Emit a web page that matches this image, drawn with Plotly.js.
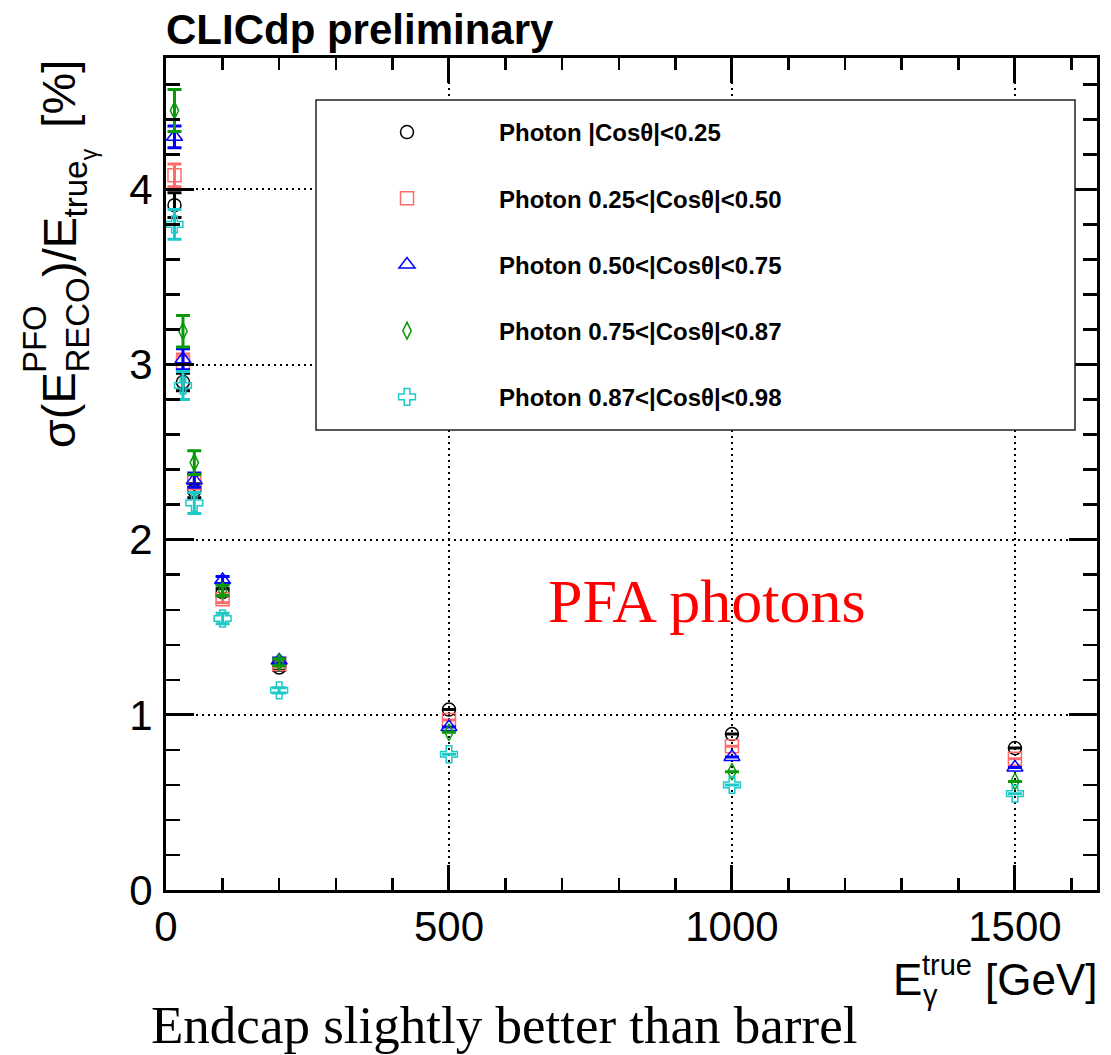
<!DOCTYPE html>
<html><head><meta charset="utf-8">
<script src="https://cdn.plot.ly/plotly-3.0.1.min.js"></script>
<style>html,body{margin:0;padding:0;background:#fff;} #chart{width:1111px;height:1055px;}</style>
</head><body><div id="chart"></div>
<script>
// ---- data ----
const energies = [15, 30, 50, 100, 200, 500, 1000, 1500];
const seriesNames = [
  'Photon |Cosθ|&lt;0.25',
  'Photon 0.25&lt;|Cosθ|&lt;0.50',
  'Photon 0.50&lt;|Cosθ|&lt;0.75',
  'Photon 0.75&lt;|Cosθ|&lt;0.87',
  'Photon 0.87&lt;|Cosθ|&lt;0.98'
];
const resCos000_025 = [3.91, 2.90, 2.28, 1.70, 1.27, 1.03, 0.89, 0.81];
const errCos000_025 = [0.07, 0.05, 0.04, 0.02, 0.015, null, null, null];
const resCos025_050 = [4.08, 3.01, 2.33, 1.66, 1.29, 0.97, 0.82, 0.75];
const errCos025_050 = [0.065, 0.05, 0.04, 0.02, 0.015, null, null, null];
const resCos050_075 = [4.30, 3.03, 2.34, 1.77, 1.31, 0.93, 0.76, 0.70];
const errCos050_075 = [0.062, 0.06, 0.04, 0.02, 0.015, null, null, null];
const resCos075_087 = [4.45, 3.19, 2.44, 1.71, 1.30, 0.90, 0.675, 0.62];
const errCos075_087 = [0.12, 0.09, 0.068, 0.03, 0.02, null, null, null];
const resCos087_098 = [3.80, 2.88, 2.21, 1.55, 1.14, 0.775, 0.60, 0.55];
const errCos087_098 = [0.085, 0.08, 0.06, 0.03, 0.015, null, null, null];
const xTickVals = [0, 500, 1000, 1500];
const yTickVals = [0, 1, 2, 3, 4];

// ---- styles ----
const colors = ['#000000', '#ff6b6b', '#0000ff', '#0a990a', '#1cc9c9'];
const symbols = ['circle-open', 'square-open', 'triangle-up-open', 'diamond-tall-open', 'cross-open'];
const sizes = [13, 13, 14, 12, 14];
const ys = [resCos000_025, resCos025_050, resCos050_075, resCos075_087, resCos087_098];
const es = [errCos000_025, errCos025_050, errCos050_075, errCos075_087, errCos087_098];

const traces = ys.map((y, i) => ({
  type: 'scatter', mode: 'markers', x: energies, y: y, name: seriesNames[i],
  legendgroup: 'g' + i,
  marker: {symbol: symbols[i], size: sizes[i], color: colors[i], line: {color: colors[i], width: 1.5}},
  error_y: {type: 'data', array: es[i], visible: true, color: colors[i], thickness: 3, width: 7},
  cliponaxis: false
}));

// ---- geometry helpers (pixels -> paper) ----
const X0 = 166, Y0 = 890, PW = 931, PH = 832, TOP = 58;
const FAM = '"Liberation Sans", Arial, Helvetica, sans-serif';
const SERIF = '"Liberation Serif", "Times New Roman", serif';
const px = p => (p - X0) / PW;
const py = p => (Y0 - p) / PH;
const ctx = document.createElement('canvas').getContext('2d');
function tw(t, size, weight) { ctx.font = (weight || 'normal') + ' ' + size + 'px "Liberation Sans"'; return ctx.measureText(t).width; }
const ASC = 0.3465;
const annotations = [];

function hText(text, size, left, baseline, color, family, weight) {
  const cy = baseline - ASC * size;
  annotations.push({xref: 'paper', yref: 'paper', x: 0, y: 0, xanchor: 'left', yanchor: 'middle',
    xshift: left - X0, yshift: -(cy - Y0), showarrow: false, text: text, borderpad: 0,
    font: {family: family || FAM, size: size, color: color || '#000', weight: weight || 'normal'}});
}
function vText(text, size, baselineX, cy) {
  const cx = baselineX - ASC * size;
  annotations.push({xref: 'paper', yref: 'paper', x: 0, y: 1, xanchor: 'center', yanchor: 'middle',
    xshift: cx - X0, yshift: -(cy - TOP), textangle: -90, showarrow: false, text: text, borderpad: 0,
    font: {family: FAM, size: size, color: '#000'}});
}

// Y axis title: σ(E^PFO_RECO)/E_true_γ [%]
(function () {
  const F = 47, S = 33, SS = 23, YB = 75, YTOP = 60;
  const l1 = tw('σ(E', F), l2 = Math.max(tw('PFO', S), tw('RECO', S)), l3 = tw(')/E', F),
        l4 = tw('true', S), l5 = tw('γ', SS), lg = tw(' ', F) * 1.6, l6 = tw('[%]', F);
  const L = l1 + l2 + l3 + l4 + l5 + lg + l6;
  const yb = YTOP + L;
  let s = 0;
  const put = (t, size, len, off) => vText(t, size, YB - off, yb - s - len / 2);
  put('σ(E', F, l1, 0); s += l1;
  put('PFO', S, tw('PFO', S), 0.62 * F); put('RECO', S, tw('RECO', S), -0.3 * F); s += l2;
  put(')/E', F, l3, 0); s += l3;
  put('true', S, l4, -0.26 * F); s += l4;
  put('γ', SS, l5, -0.46 * F); s += l5 + lg;
  put('[%]', F, l6, 0);
})();

// X axis title: E^true_γ [GeV]
(function () {
  const F = 44, S = 29, XB = 995, XR = 1096;
  const l1 = tw('E', F), l2 = Math.max(tw('true', S), tw('γ', S)), lg = tw(' ', F), l3 = tw('[GeV]', F);
  let x = XR - (l1 + l2 + lg + l3);
  hText('E', F, x, XB); x += l1;
  hText('true', S, x, XB - 0.46 * F); hText('γ', S, x + 1, XB + 0.22 * F); x += l2 + lg;
  hText('[GeV]', F, x, XB);
})();

hText('CLICdp preliminary', 42, 165, 44, '#000', FAM, 'bold');
annotations.push({xref: 'paper', yref: 'paper', x: px(707), y: py(601), xanchor: 'center', yanchor: 'middle',
  showarrow: false, text: 'PFA photons', font: {family: SERIF, size: 62, color: '#ff0000'}});
hText('Endcap slightly better than barrel', 53, 150, 1043, '#000', SERIF);

const axisCommon = {
  showline: true, linewidth: 3, linecolor: '#000', mirror: 'ticks',
  ticks: 'inside', tickwidth: 3, tickcolor: '#000',
  showgrid: true, gridcolor: '#000', gridwidth: 2, griddash: '2px,4px',
  zeroline: false, tickfont: {family: FAM, size: 42, color: '#000'}
};

const layout = {
  width: 1111, height: 1055,
  margin: {l: X0, r: 1111 - X0 - PW, t: TOP, b: 1055 - TOP - PH, pad: 0},
  paper_bgcolor: '#fff', plot_bgcolor: '#fff',
  font: {family: FAM, color: '#000'},
  xaxis: Object.assign({}, axisCommon, {
    range: [0, 1645], tickmode: 'array', tickvals: xTickVals, ticklen: 25, ticklabelstandoff: -2,
    minor: {dtick: 100, ticklen: 12, tickwidth: 2.5, tickcolor: '#000', ticks: 'inside', showgrid: false}
  }),
  yaxis: Object.assign({}, axisCommon, {
    range: [0, 4.75], tickmode: 'array', tickvals: yTickVals, ticklen: 28, ticklabelstandoff: 2,
    minor: {dtick: 0.2, ticklen: 14, tickwidth: 2.5, tickcolor: '#000', ticks: 'inside', showgrid: false}
  }),
  showlegend: true,
  legend: {
    x: px(315), xanchor: 'left', y: py(110), yanchor: 'top',
    bgcolor: 'rgba(0,0,0,0)', borderwidth: 0, itemwidth: 174, tracegroupgap: 32,
    font: {family: FAM, size: 24, color: '#000', weight: 'bold'}
  },
  shapes: [{type: 'rect', xref: 'paper', yref: 'paper', x0: px(316), x1: px(1075), y0: py(430), y1: py(100),
    line: {color: '#222', width: 1.5}, fillcolor: '#fff', layer: 'above'}],
  annotations: annotations
};

Plotly.newPlot('chart', traces, layout, {staticPlot: true, displayModeBar: false});
</script>
</body></html>
